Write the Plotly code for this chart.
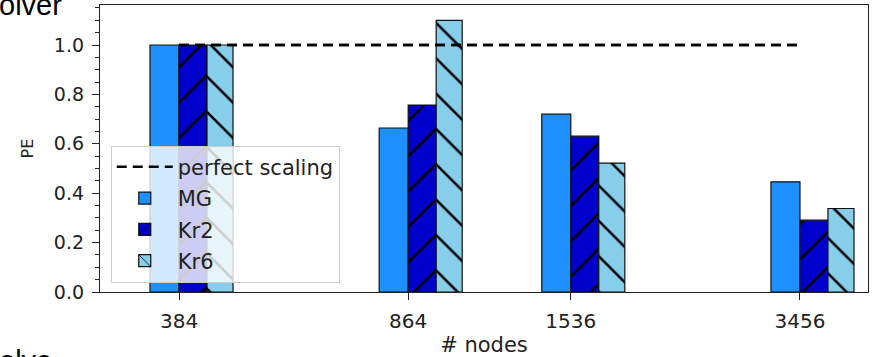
import numpy as np
import plotly.graph_objects as go

# ---- data ----
nodes = [384, 864, 1536, 3456]
tick_labels = ["384", "864", "1536", "3456"]
pe_mg = [1.0, 0.664, 0.72, 0.446]
pe_kr2 = [1.0, 0.757, 0.631, 0.291]
pe_kr6 = [1.0, 1.10, 0.522, 0.338]
perfect_x = [384, 3456]
perfect_y = [1.0, 1.0]

logx = np.log10(nodes)
FONT = "DejaVu Sans"
EDGE = "#111111"
TXT = "#222222"

fig = go.Figure()

fig.add_trace(go.Scatter(
    x=np.log10(perfect_x), y=perfect_y, mode="lines", name="perfect scaling",
    line=dict(color="#000000", width=2.5, dash="10px,6px"),
    legendgroup="a", legendrank=1,
))
fig.add_trace(go.Bar(
    x=logx, y=pe_mg, name="MG", offset=-0.0446, width=0.0446,
    marker=dict(color="#1E90FF", line=dict(color=EDGE, width=1.2)),
    legendgroup="b", legendrank=2,
))
fig.add_trace(go.Bar(
    x=logx, y=pe_kr2, name="Kr2", offset=0.0, width=0.043,
    marker=dict(color="#0000CD", line=dict(color=EDGE, width=1.2),
                pattern=dict(shape="/", fgcolor="#000000", bgcolor="#0000CD",
                             fgopacity=1, size=25, solidity=0.1)),
    legendgroup="c", legendrank=3,
))
fig.add_trace(go.Bar(
    x=logx, y=pe_kr6, name="Kr6", offset=0.043, width=0.040,
    marker=dict(color="#87CEEB", line=dict(color=EDGE, width=1.2),
                pattern=dict(shape="\\", fgcolor="#000000", bgcolor="#87CEEB",
                             fgopacity=1, size=25, solidity=0.1)),
    legendgroup="d", legendrank=4,
))
# dashed line drawn again on top of the bars (no legend entry)
fig.add_trace(go.Scatter(
    x=np.log10(perfect_x), y=perfect_y, mode="lines", showlegend=False,
    line=dict(color="#000000", width=2.5, dash="10px,6px"), hoverinfo="skip",
))

fig.update_layout(
    width=873, height=357,
    margin=dict(l=100, r=5, t=5, b=65, autoexpand=False),
    paper_bgcolor="white", plot_bgcolor="white",
    barmode="overlay",
    font=dict(family=FONT, size=19, color=TXT),
    showlegend=True,
    legend=dict(
        x=0.014, y=0.51, xanchor="left", yanchor="top",
        bgcolor="rgba(255,255,255,0.8)", bordercolor="#cccccc", borderwidth=1,
        font=dict(family=FONT, size=21, color=TXT),
        traceorder="grouped", itemwidth=56, tracegroupgap=1,
    ),
    xaxis=dict(
        range=[2.4629, 3.6431], automargin=False,
        tickmode="array", tickvals=logx, ticktext=tick_labels,
        ticks="outside", ticklen=7, tickwidth=1.3, tickcolor=TXT,
        ticklabelstandoff=4,
        showline=True, linecolor=TXT, linewidth=1.3, mirror=True,
        showgrid=False, zeroline=False,
        tickfont=dict(family=FONT, size=20, color=TXT),
        title=dict(text="# nodes", font=dict(family=FONT, size=21, color=TXT), standoff=5),
    ),
    yaxis=dict(
        range=[0, 1.162], automargin=False,
        tickmode="array", tickvals=[0, 0.2, 0.4, 0.6, 0.8, 1.0],
        ticktext=["0.0", "0.2", "0.4", "0.6", "0.8", "1.0"],
        ticks="outside", ticklen=7, tickwidth=1.3, tickcolor=TXT,
        ticklabelstandoff=4,
        minor=dict(dtick=0.05, tick0=0, ticks="outside", ticklen=4, tickwidth=1, tickcolor=TXT),
        showline=True, linecolor=TXT, linewidth=1.3, mirror=True,
        showgrid=False, zeroline=False,
        tickfont=dict(family=FONT, size=19, color=TXT),
        title=dict(text="PE", font=dict(family=FONT, size=16, color=TXT), standoff=16),
    ),
    annotations=[
        dict(text="olver", xref="paper", yref="paper",
             x=-103 / 768, y=1 + 18 / 287, xanchor="left", yanchor="top",
             showarrow=False, font=dict(family="Liberation Sans", size=29, color="#000000")),
        dict(text="olve", xref="paper", yref="paper",
             x=-103 / 768, y=-51 / 287, xanchor="left", yanchor="top",
             showarrow=False, font=dict(family="Liberation Sans", size=29, color="#000000")),
    ],
)

fig.write_html(
    "out.html",
    config={"displayModeBar": False},
    post_script="document.body.style.margin='0';document.body.style.overflow='hidden';",
)
